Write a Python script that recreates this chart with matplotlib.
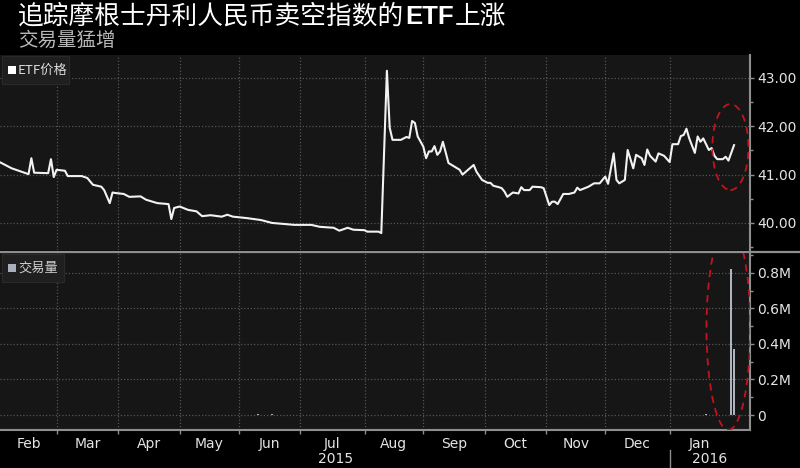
import numpy as np
import pandas as pd
import matplotlib
matplotlib.use("Agg")
import matplotlib.pyplot as plt
from matplotlib.patches import Ellipse, Rectangle
from matplotlib.transforms import blended_transform_factory
from matplotlib.ticker import FixedLocator, MultipleLocator, FuncFormatter

# ---------------- data ----------------
start_date = "2015-02-02"          # first trading day shown
n_days = 268                        # business days covered by the x axis
title_a = "追踪摩根士丹利人民币卖空指数的"
title_b = "ETF"
title_c = "上涨"
subtitle = "交易量猛增"
legend_price = "ETF价格"
legend_vol = "交易量"

# trading-day number (from start_date) and ETF price
price_day = [0, 4, 10, 11, 12, 17, 18, 19, 20, 23, 24, 29, 31, 33, 36, 37, 39, 40, 41,
             44, 46, 50, 52, 56, 60, 61, 62, 64, 67, 70, 72, 75, 79, 81, 83, 88, 93, 97,
             101, 105, 111, 114, 119, 121, 124, 126, 130, 131, 135, 136, 138, 139, 140,
             143, 145, 146, 147, 148, 149, 151, 152, 153, 154, 155, 156, 157, 158, 160,
             162, 164, 165, 167, 169, 170, 172, 174, 175, 176, 178, 179, 180, 181, 183,
             185, 186, 187, 189, 190, 193, 194, 196, 197, 198, 199, 201, 203, 205, 206,
             207, 210, 212, 214, 216, 217, 219, 220, 221, 223, 224, 226, 227, 229, 230,
             231, 232, 234, 235, 237, 239, 240, 242, 243, 244, 245, 246, 248, 249, 250,
             251, 253, 254, 255, 256, 258, 259, 260, 262]
price_val = [41.25, 41.13, 41.01, 41.34, 41.04, 41.03, 41.32, 40.95, 41.10, 41.08, 40.97,
             40.97, 40.93, 40.79, 40.75, 40.68, 40.41, 40.63, 40.62, 40.60, 40.54, 40.55,
             40.48, 40.41, 40.39, 40.08, 40.31, 40.34, 40.27, 40.24, 40.14, 40.16, 40.13,
             40.17, 40.13, 40.10, 40.06, 40.00, 39.98, 39.96, 39.96, 39.92, 39.90, 39.84,
             39.90, 39.86, 39.85, 39.82, 39.82, 39.79, 43.15, 41.97, 41.72, 41.72, 41.78,
             41.76, 42.11, 42.07, 41.79, 41.58, 41.34, 41.48, 41.48, 41.59, 41.41, 41.48,
             41.68, 41.24, 41.17, 41.10, 41.00, 41.10, 41.20, 41.06, 40.89, 40.83, 40.83,
             40.77, 40.74, 40.72, 40.65, 40.54, 40.63, 40.61, 40.74, 40.68, 40.68, 40.75,
             40.74, 40.72, 40.37, 40.44, 40.44, 40.39, 40.60, 40.60, 40.63, 40.73, 40.68,
             40.75, 40.82, 40.82, 40.96, 40.81, 41.44, 40.89, 40.82, 40.89, 41.51, 41.13,
             41.41, 41.34, 41.20, 41.52, 41.39, 41.27, 41.44, 41.39, 41.26, 41.63, 41.63,
             41.80, 41.82, 41.95, 41.75, 41.45, 41.79, 41.68, 41.75, 41.51, 41.55, 41.39,
             41.32, 41.32, 41.37, 41.29, 41.61]

# trading volume (millions of shares) on the days where it is visible
vol_day = [92, 97, 252, 261, 262]
vol_val = [0.004, 0.004, 0.008, 0.82, 0.37]

month_labels = ["Feb", "Mar", "Apr", "May", "Jun", "Jul", "Aug",
                "Sep", "Oct", "Nov", "Dec", "Jan"]
year_labels = ["2015", "2016"]
price_ticks = [40, 41, 42, 43]
vol_ticks = [0, 0.2, 0.4, 0.6, 0.8]

# ---------------- style ----------------
CJK = ["Noto Sans CJK SC", "DejaVu Sans"]
NUM = "DejaVu Sans"
BG = "#000000"
PANEL = "#161616"
GRID = "#555555"
AXISC = "#8e8e8e"
TXT = "#e4e4e4"
W, H = 800, 468

fig = plt.figure(figsize=(8, 4.68), dpi=100, facecolor=BG)

ax1 = fig.add_axes([0, 1 - 250 / H, 750 / W, 195 / H], facecolor=PANEL)
ax2 = fig.add_axes([0, 1 - 430 / H, 750 / W, 177 / H], facecolor=PANEL, sharex=ax1)

# month boundaries from the business-day calendar
dates = pd.bdate_range(start_date, periods=n_days)
per = dates.to_period("M")
bounds = [0] + [i for i in range(1, n_days) if per[i] != per[i - 1]]
centers = [(bounds[i] + bounds[i + 1]) / 2 for i in range(len(month_labels))]
inner = bounds[1:len(month_labels)]

# ---- price panel ----
ax1.plot(price_day, price_val, color="#f2f2f2", lw=1.5, solid_joinstyle="round", zorder=3)
ax1.set_xlim(-0.2, 267.7)
ax1.set_ylim(39.44, 43.476)
ax1.yaxis.tick_right()
ax1.yaxis.set_major_locator(FixedLocator(price_ticks))
ax1.yaxis.set_minor_locator(MultipleLocator(0.5))
ax1.yaxis.set_major_formatter(FuncFormatter(lambda v, p: f"{v:.2f}"))
ax1.tick_params(axis="y", which="major", direction="out", length=3, width=1,
                color=AXISC, labelcolor=TXT, labelsize=10, pad=2)
ax1.tick_params(axis="y", which="minor", direction="out", length=2.5, width=1, color=AXISC)
ax1.xaxis.set_major_locator(FixedLocator(inner))
ax1.tick_params(axis="x", which="both", length=0, labelbottom=False)
for s in ["left", "top", "bottom"]:
    ax1.spines[s].set_visible(False)
ax1.spines["right"].set_color(AXISC)
ax1.spines["right"].set_linewidth(1.5)
ax1.grid(True, which="major", color=GRID, ls=(0, (1, 1.6)), lw=0.9)
for lab in ax1.get_yticklabels():
    lab.set_family(NUM)

ax1.add_patch(Ellipse((260.7, 41.57), 12.9, 1.78, fill=False, ec="#c0151d",
                      ls=(0, (4, 3)), lw=1.3, zorder=4))

# ---- volume panel ----
ax2.bar(vol_day, vol_val, width=0.7, color="#aeb4be", zorder=3)
ax2.set_ylim(-0.084, 0.911)
ax2.yaxis.tick_right()
ax2.yaxis.set_major_locator(FixedLocator(vol_ticks))
ax2.yaxis.set_minor_locator(MultipleLocator(0.1))
ax2.yaxis.set_major_formatter(FuncFormatter(lambda v, p: "0" if abs(v) < 1e-9 else f"{v:.1f}M"))
ax2.tick_params(axis="y", which="major", direction="out", length=3, width=1,
                color=AXISC, labelcolor=TXT, labelsize=10, pad=2)
ax2.tick_params(axis="y", which="minor", direction="out", length=2.5, width=1, color=AXISC)
ax2.xaxis.set_major_locator(FixedLocator(inner))
ax2.xaxis.set_minor_locator(FixedLocator(centers))
ax2.xaxis.set_minor_formatter(FuncFormatter(lambda v, p: month_labels[p] if p is not None and p < len(month_labels) else ""))
ax2.xaxis.set_major_formatter(FuncFormatter(lambda v, p: ""))
ax2.tick_params(axis="x", which="major", direction="out", length=3, width=1, color=AXISC)
ax2.tick_params(axis="x", which="minor", length=0, labelcolor=TXT, labelsize=10, pad=5)
for lab in ax2.get_xticklabels(minor=True):
    lab.set_family(NUM)
for lab in ax2.get_yticklabels():
    lab.set_family(NUM)
for s in ["left", "top"]:
    ax2.spines[s].set_visible(False)
for s in ["right", "bottom"]:
    ax2.spines[s].set_color(AXISC)
    ax2.spines[s].set_linewidth(1.5)
ax2.grid(True, which="major", color=GRID, ls=(0, (1, 1.6)), lw=0.9)

ax2.add_patch(Ellipse((260.0, 0.49), 15.7, 1.147, fill=False, ec="#c0151d",
                      ls=(0, (4, 3)), lw=1.3, zorder=4))

# year labels and separator
tb = blended_transform_factory(ax2.transData, ax2.transAxes)
ax2.text((bounds[0] + bounds[11]) / 2, -0.165, year_labels[0], transform=tb, ha="center",
         va="center", color=TXT, fontsize=10, family=NUM)
ax2.text((bounds[11] + 267.7) / 2, -0.165, year_labels[1], transform=tb, ha="center",
         va="center", color=TXT, fontsize=10, family=NUM)
ax2.plot([bounds[11], bounds[11]], [-0.113, -0.22], transform=tb, color=AXISC,
         lw=1, clip_on=False)

# separator between the panels
fig.add_artist(plt.Line2D([0, 1], [1 - 251.5 / H, 1 - 251.5 / H], transform=fig.transFigure,
                          color=AXISC, lw=1.6))

# legend boxes
def legend_box(x0, y0, x1, y1, sq_color, text, txt_color):
    fig.add_artist(Rectangle((x0 / W, 1 - y1 / H), (x1 - x0) / W, (y1 - y0) / H,
                             transform=fig.transFigure, fc="#1f1f1f", ec="#2a2a2a", lw=0.8))
    cy = (y0 + y1) / 2
    fig.add_artist(Rectangle((8 / W, 1 - (cy + 4) / H), 8 / W, 8 / H,
                             transform=fig.transFigure, fc=sq_color, ec="none"))
    fig.text(18 / W, 1 - cy / H, text, color=txt_color, fontsize=9.5, family=CJK,
             va="center", ha="left")

legend_box(2, 56, 69, 84, "#ffffff", legend_price, "#dcdcdc")
legend_box(2, 254, 64, 282, "#a9afbb", legend_vol, "#d0d0d0")

# title
yb = 1 - 24 / H
t1 = fig.text(18 / W, yb, title_a, color="white", fontsize=18.5, family=CJK, va="baseline")
r = fig.canvas.get_renderer()
bb = t1.get_window_extent(r)
t2 = fig.text(bb.x1 / W + 1 / W, yb, title_b, color="white", fontsize=18.5,
              family=["Liberation Sans", "DejaVu Sans"], weight="bold", va="baseline")
bb2 = t2.get_window_extent(r)
fig.text(bb2.x1 / W + 1 / W, yb, title_c, color="white", fontsize=18.5, family=CJK, va="baseline")
fig.text(18 / W, 1 - 46 / H, subtitle, color="#b8b8b8", fontsize=14, family=CJK, va="baseline")

fig.savefig("out.png", dpi=100, facecolor=BG)
